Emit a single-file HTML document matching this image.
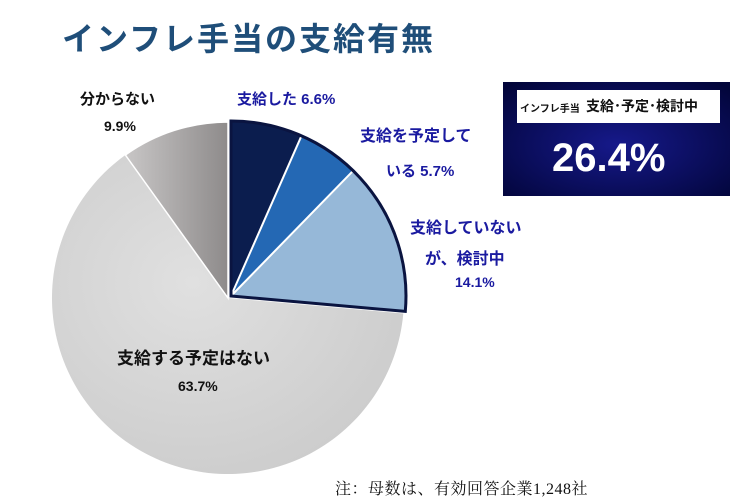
<!DOCTYPE html>
<html><head><meta charset="utf-8"><style>
body{margin:0;width:749px;height:503px;background:#fff;overflow:hidden;position:relative;font-family:"Liberation Sans","Noto Sans CJK JP",sans-serif}
.t{position:absolute;white-space:nowrap;font-weight:bold}
</style></head><body>
<div class="t" style="left:62px;top:14px;font-size:32px;color:#1f4e79;letter-spacing:2px">インフレ手当の支給有無</div>
<svg width="749" height="503" style="position:absolute;left:0;top:0">
<defs>
<radialGradient id="g1" cx="40%" cy="40%" r="80%"><stop offset="0" stop-color="#e0e0e0"/><stop offset="1" stop-color="#c8c8c8"/></radialGradient>
<linearGradient id="g2" x1="0" y1="0" x2="1" y2="0"><stop offset="0" stop-color="#c8c6c6"/><stop offset="1" stop-color="#8e8b8b"/></linearGradient>
<radialGradient id="bx" cx="50%" cy="55%" r="70%"><stop offset="0" stop-color="#16198a"/><stop offset="1" stop-color="#02053a"/></radialGradient>
</defs>
<path d="M228,298 L403.3,313.5 A176,176 0 1 1 125.4,155 Z" fill="url(#g1)"/>
<path d="M228,298 L125.4,155 A176,176 0 0 1 228,122 Z" fill="url(#g2)" stroke="#fff" stroke-width="1.5"/>
<path d="M231,296 L231,121 A175,175 0 0 1 301.5,135.8 Z" fill="#0b1d4e"/>
<path d="M231,296 L301.5,135.8 A175,175 0 0 1 353.2,170.7 Z" fill="#2468b4"/>
<path d="M231,296 L353.2,170.7 A175,175 0 0 1 405.3,311.4 Z" fill="#96b8d8"/>
<path d="M231,296 L301.5,135.8 M231,296 L353.2,170.7" stroke="#fff" stroke-width="2"/>
<path d="M231,296 L231,121 A175,175 0 0 1 405.3,311.4 Z" fill="none" stroke="#0a1440" stroke-width="3"/>
<rect x="503" y="82" width="227" height="114" fill="url(#bx)"/>
<rect x="517" y="90" width="203" height="33" fill="#fff"/>
</svg>
<div class="t" style="left:520px;top:100px;font-size:10px;color:#111">インフレ手当</div>
<div class="t" style="left:586px;top:96px;font-size:14px;color:#111">支給･予定･検討中</div>
<div class="t" style="left:552px;top:136px;font-size:40px;color:#fff">26.4%</div>
<div class="t" style="left:237px;top:88px;font-size:15px;color:#1a1aa0">支給した 6.6%</div>
<div class="t" style="left:360px;top:122px;font-size:16px;color:#1a1aa0">支給を予定して</div>
<div class="t" style="left:386px;top:160px;font-size:15px;color:#1a1aa0">いる 5.7%</div>
<div class="t" style="left:410px;top:214px;font-size:16px;color:#1a1aa0">支給していない</div>
<div class="t" style="left:425px;top:245px;font-size:16px;color:#1a1aa0">が、検討中</div>
<div class="t" style="left:455px;top:274px;font-size:14px;color:#1a1aa0">14.1%</div>
<div class="t" style="left:80px;top:88px;font-size:15px;color:#111">分からない</div>
<div class="t" style="left:104px;top:118px;font-size:14px;color:#111">9.9%</div>
<div class="t" style="left:117px;top:344px;font-size:17px;color:#111">支給する予定はない</div>
<div class="t" style="left:178px;top:378px;font-size:14px;color:#111">63.7%</div>
<div style="position:absolute;left:335px;top:476px;font-size:16px;letter-spacing:0.5px;color:#111;font-family:'Liberation Serif','Noto Serif CJK SC',serif;white-space:nowrap">注：母数は、有効回答企業1,248社</div>
</body></html>
